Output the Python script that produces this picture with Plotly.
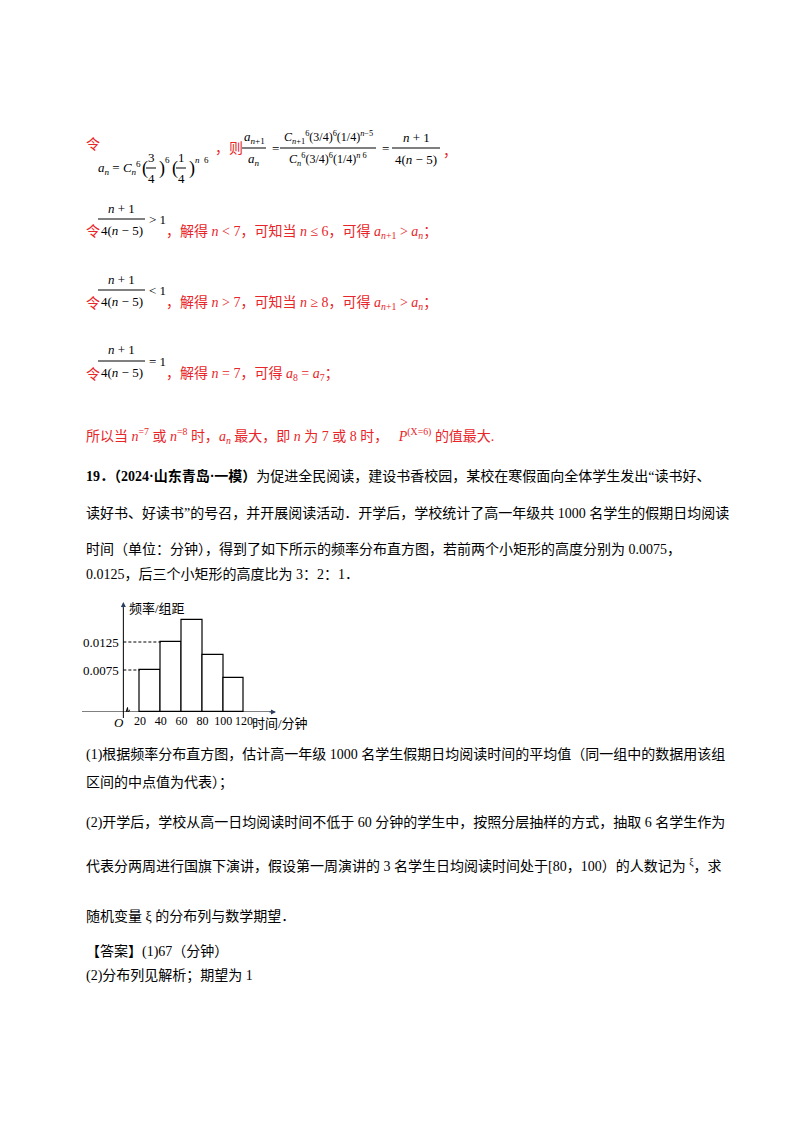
import plotly.graph_objects as go

# histogram data
bin_left = [20, 40, 60, 80, 100]
bin_width = 20
heights = [0.0075, 0.0125, 0.0165, 0.0102, 0.006]
x_ticks = [20, 40, 60, 80, 100, 120]
y_ticks = [0.0075, 0.0125]

W, H = 800, 1132
RED = "#e8262a"
FONT = "Liberation Serif, Noto Sans CJK SC"

fig = go.Figure()
fig.add_trace(go.Bar(
    x=[b + bin_width / 2 for b in bin_left], y=heights, width=bin_width,
    marker=dict(color="white", line=dict(color="black", width=1.2)),
    hoverinfo="skip", showlegend=False,
))

ann = []
shapes = []


def px(x):
    return x / W


def py(y):
    return 1 - y / H


def txt(x, y, s, color="black", size=14, anchor="left"):
    ann.append(dict(x=px(x), y=py(y), xref="paper", yref="paper", text=s, showarrow=False,
                    xanchor=anchor, yanchor="middle", font=dict(family=FONT, size=size, color=color)))


def frac(x0, x1, ymid, num, den, size=13):
    xc = (x0 + x1) / 2
    txt(xc, ymid - 11, num, size=size, anchor="center")
    txt(xc, ymid + 11, den, size=size, anchor="center")
    shapes.append(dict(type="line", xref="paper", yref="paper", x0=px(x0), x1=px(x1),
                       y0=py(ymid), y1=py(ymid), line=dict(color="black", width=1)))


I = lambda s: f"<i>{s}</i>"

# line 1
txt(76, 137, "令", RED)
txt(88, 160, I("a") + "<sub>" + I("n") + "</sub> = " + I("C") + "<sub>" + I("n") + "</sub><sup>6</sup>", size=13)
txt(132, 160, "(", size=18)
frac(138, 148, 160, "3", "4")
txt(149, 160, ")", size=18)
txt(155, 152, "6", size=9)
txt(162, 160, "(", size=18)
frac(168, 178, 160, "1", "4")
txt(179, 160, ")", size=18)
txt(185, 152, I("n") + "  6", size=9)
txt(205, 140, "，则", RED)
frac(234, 258, 140, I("a") + "<sub>" + I("n") + "+1</sub>", I("a") + "<sub>" + I("n") + "</sub>")
txt(262, 140, "=", size=13)
frac(272, 368, 140, I("C") + "<sub>" + I("n") + "+1</sub><sup>6</sup>(3/4)<sup>6</sup>(1/4)<sup>" + I("n") + "−5</sup>",
     I("C") + "<sub>" + I("n") + "</sub><sup>6</sup>(3/4)<sup>6</sup>(1/4)<sup>" + I("n") + " 6</sup>", size=12)
txt(372, 140, "=", size=13)
frac(384, 432, 140, I("n") + " + 1", "4(" + I("n") + " − 5)")
txt(433, 143, "，", RED)

# lines 2-4
rows = [
    (211, "> 1", "，解得 " + I("n") + " < 7，可知当 " + I("n") + " ≤ 6，可得 " + I("a") + "<sub>" + I("n") + "+1</sub> > " + I("a") + "<sub>" + I("n") + "</sub>；"),
    (282, "< 1", "，解得 " + I("n") + " > 7，可知当 " + I("n") + " ≥ 8，可得 " + I("a") + "<sub>" + I("n") + "+1</sub> > " + I("a") + "<sub>" + I("n") + "</sub>；"),
    (353, "= 1", "，解得 " + I("n") + " = 7，可得 " + I("a") + "<sub>8</sub> = " + I("a") + "<sub>7</sub>；"),
]
for ym, rel, rest in rows:
    txt(76, ym + 13, "令", RED)
    frac(90, 137, ym, I("n") + " + 1", "4(" + I("n") + " − 5)")
    txt(139, ym, rel, size=13)
    txt(156, ym + 13, rest, RED)

txt(76, 428, "所以当 " + I("n") + "<sup>=7</sup> 或 " + I("n") + "<sup>=8</sup> 时，" + I("a") + "<sub>" + I("n") + "</sub> 最大，即 "
    + I("n") + " 为 7 或 8 时，   " + I("P") + "<sup>(X=6)</sup> 的值最大.", RED)

# question
q_lines = [
    (468, "<b>19．（2024·山东青岛·一模）</b>为促进全民阅读，建设书香校园，某校在寒假面向全体学生发出“读书好、"),
    (505, "读好书、好读书”的号召，并开展阅读活动．开学后，学校统计了高一年级共 1000 名学生的假期日均阅读"),
    (541, "时间（单位：分钟），得到了如下所示的频率分布直方图，若前两个小矩形的高度分别为 0.0075，"),
    (566, "0.0125，后三个小矩形的高度比为 3：2：1．"),
    (746, "(1)根据频率分布直方图，估计高一年级 1000 名学生假期日均阅读时间的平均值（同一组中的数据用该组"),
    (775, "区间的中点值为代表）；"),
    (814, "(2)开学后，学校从高一日均阅读时间不低于 60 分钟的学生中，按照分层抽样的方式，抽取 6 名学生作为"),
    (857, "代表分两周进行国旗下演讲，假设第一周演讲的 3 名学生日均阅读时间处于[80，100）的人数记为 <sup>ξ</sup>，求"),
    (908, "随机变量 ξ 的分布列与数学期望．"),
    (943, "【答案】(1)67（分钟）"),
    (968, "(2)分布列见解析；期望为 1"),
]
for y, s in q_lines:
    txt(76, y, s)

# chart axes (x: range [-40,150] -> px 69.6..267.2; y: [0,0.02] -> 704..592)
x0p, x1p = 69.6, 267.2
fig.update_xaxes(range=[-40, 150], domain=[px(x0p), px(x1p)], showgrid=False, zeroline=False,
                 showline=False, tickvals=x_ticks, ticks="", showticklabels=True, tickangle=0,
                 tickfont=dict(family=FONT, size=12, color="black"))
fig.update_yaxes(range=[0, 0.02], domain=[py(704), py(592)], showgrid=False, zeroline=False,
                 showline=False, showticklabels=False)

# axis lines and arrows
shapes.append(dict(type="line", xref="paper", yref="y", x0=px(74), x1=px(266), y0=0, y1=0,
                   line=dict(color="black", width=1)))
shapes.append(dict(type="line", xref="x", yref="paper", x0=4, x1=4, y0=py(710), y1=py(597),
                   line=dict(color="black", width=1)))
ann.append(dict(x=px(268), y=0, xref="paper", yref="y", ax=-8, ay=0, showarrow=True,
                arrowhead=2, arrowsize=1, arrowwidth=1, text=""))
ann.append(dict(x=4, y=py(594), xref="x", yref="paper", ax=0, ay=8, showarrow=True,
                arrowhead=2, arrowsize=1, arrowwidth=1, text=""))
for v in y_ticks:
    shapes.append(dict(type="line", xref="x", yref="y", x0=4, x1=20 if v < 0.01 else 40, y0=v, y1=v,
                       layer="above", line=dict(color="black", width=1, dash="3px,2px")))
    ann.append(dict(x=2, y=v, xref="x", yref="y", text=f"{v:.4f}", showarrow=False, xanchor="right",
                    font=dict(family=FONT, size=13, color="black")))
# break mark
shapes.append(dict(type="path", xref="x", yref="y",
                   path="M 6,-0.0004 L 8,0.0008 L 8.5,-0.0002 L 10,0.0004", line=dict(color="black", width=1)))
txt(104, 714, I("O"), size=13)
txt(242, 715, "时间/分钟", size=13)
txt(119, 600, "频率/组距", size=13)

fig.update_layout(width=W, height=H, margin=dict(l=0, r=0, t=0, b=0), paper_bgcolor="white",
                  plot_bgcolor="white", annotations=ann, shapes=shapes, bargap=0)
fig.write_html("out.html")
